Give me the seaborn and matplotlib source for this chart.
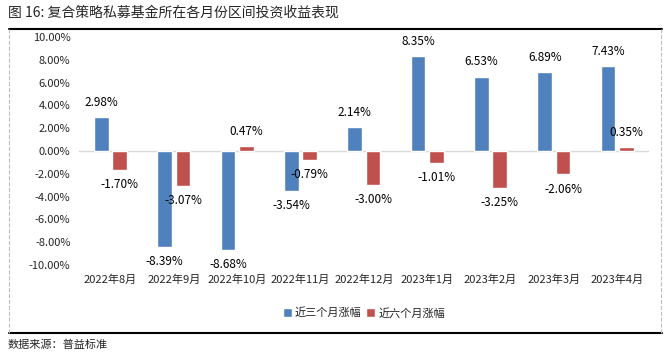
import pandas as pd
import matplotlib.pyplot as plt
from matplotlib.lines import Line2D
import seaborn as sns

sns.set_style("white")
plt.rcParams["font.family"] = ["Noto Sans CJK SC", "DejaVu Sans"]
plt.rcParams["axes.unicode_minus"] = False

# =========================
# DATA
# =========================
months = ["2022年8月", "2022年9月", "2022年10月", "2022年11月", "2022年12月",
          "2023年1月", "2023年2月", "2023年3月", "2023年4月"]
ret_3m = [2.98, -8.39, -8.68, -3.54, 2.14, 8.35, 6.53, 6.89, 7.43]
ret_6m = [-1.70, -3.07, 0.47, -0.79, -3.00, -1.01, -3.25, -2.06, 0.35]
series = ["近三个月涨幅", "近六个月涨幅"]
yticks = [-10, -8, -6, -4, -2, 0, 2, 4, 6, 8, 10]

df = pd.DataFrame({
    "month": months * 2,
    "value": ret_3m + ret_6m,
    "series": [series[0]] * len(months) + [series[1]] * len(months),
})

# =========================
# PLOT
# =========================
fig = plt.figure(figsize=(6.69, 3.55), dpi=100)
ax = fig.add_axes([0.118, 0.2535, 0.852, 0.6423])

sns.barplot(
    data=df, x="month", y="value", hue="series",
    palette=["#4F81BD", "#C0504D"], saturation=1, width=0.58, gap=0.2,
    order=months, hue_order=series, ax=ax, legend=True,
)

# value labels
for cont, vals in zip(ax.containers, [ret_3m, ret_6m]):
    for bar, v in zip(cont, vals):
        xc = bar.get_x() + bar.get_width() / 2
        ax.annotate(f"{v:.2f}%", (xc, v), xytext=(0, 10.5 if v >= 0 else -10.5),
                    textcoords="offset points", ha="center", va="center",
                    fontsize=8.5, color="black")

ax.axhline(0, color="#d9d9d9", lw=1, zorder=0)
ax.set_ylim(-10, 10)
ax.set_xlim(-0.5, len(months) - 0.5)
ax.set_yticks(yticks)
ax.set_yticklabels([f"{t:.2f}%" for t in yticks], fontsize=8)
ax.tick_params(axis="x", labelsize=8, pad=7, length=0)
ax.tick_params(axis="y", pad=6, length=0)
ax.set_xlabel("")
ax.set_ylabel("")
for s in ax.spines.values():
    s.set_visible(False)

leg = ax.legend(loc="center", bbox_to_anchor=(0.5, -0.21), ncol=2, frameon=False,
                fontsize=8, handlelength=0.8, handleheight=0.8,
                handletextpad=0.3, columnspacing=0.4)

# frame, title and source
fig.add_artist(Line2D([0.014, 0.99], [0.918, 0.918], color="black", lw=1.5))
fig.add_artist(Line2D([0.014, 0.99], [0.062, 0.062], color="black", lw=1.5))
fig.add_artist(Line2D([0.014, 0.014], [0.062, 0.918], color="#bfbfbf", lw=0.8, ls="--"))
fig.add_artist(Line2D([0.988, 0.988], [0.062, 0.918], color="#bfbfbf", lw=0.8, ls="--"))
fig.text(0.012, 0.965, "图 16: 复合策略私募基金所在各月份区间投资收益表现",
         fontsize=10, va="center", ha="left")
fig.text(0.012, 0.028, "数据来源：普益标准", fontsize=8, va="center", ha="left")

plt.savefig("out.png", dpi=100)
plt.close()
